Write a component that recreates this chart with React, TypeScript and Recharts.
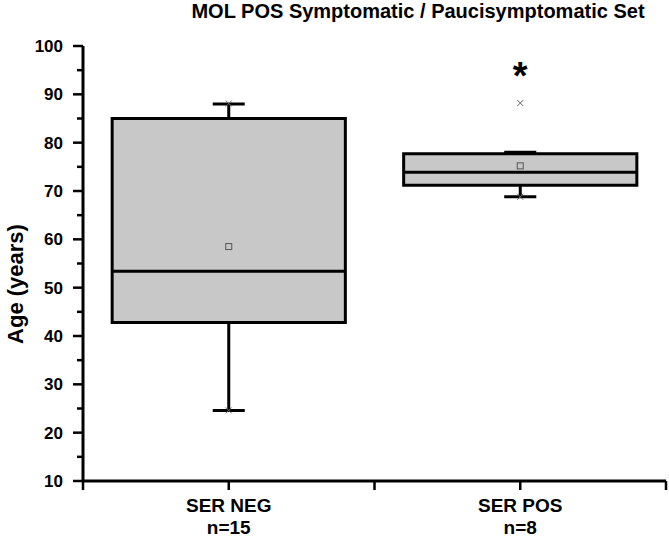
import {
  ComposedChart, XAxis, YAxis, Scatter, ReferenceArea, ReferenceLine, Label,
} from "recharts";

const categories = ["SER NEG", "SER POS"];
const counts = [15, 8];
const positions = [1, 3];
const whiskerLow = [24.6, 68.8];
const q1 = [42.8, 71.2];
const median = [53.4, 73.9];
const q3 = [85.0, 77.7];
const whiskerHigh = [88.0, 78.0];
const means = [58.5, 75.2];
// small "x" marks (min / max / 1-99%)
const markerX = [1, 1, 3, 3];
const markerY = [88.1, 24.6, 88.2, 68.8];
// significance star above SER POS
const starX = [3];
const starY = [95];

const yTicks = [10, 15, 20, 25, 30, 35, 40, 45, 50, 55, 60, 65, 70, 75, 80, 85, 90, 95, 100];
const xTicks = [0, 1, 2, 3, 4];

const FONT = '"Liberation Sans", Arial, sans-serif';
const BOX_HALF = 0.8;
const CAP_HALF = 0.11;

const meanData = positions.map((x, i) => ({ x, y: means[i] }));
const markerData = markerX.map((x, i) => ({ x, y: markerY[i] }));
const starData = starX.map((x, i) => ({ x, y: starY[i] }));

function YTick(props: any) {
  const { x, y, payload } = props;
  const major = payload.value % 10 === 0;
  return (
    <g>
      <line x1={x - (major ? 10 : 6)} x2={x} y1={y} y2={y} stroke="#000" strokeWidth={2.5} />
      {major && (
        <text x={x - 20} y={y + 6} textAnchor="end" fontFamily={FONT} fontWeight="bold" fontSize={17} fill="#000">
          {payload.value}
        </text>
      )}
    </g>
  );
}

function XTick(props: any) {
  const { x, y, payload } = props;
  const idx = positions.indexOf(payload.value);
  if (idx < 0) return null;
  return (
    <g fontFamily={FONT} fontWeight="bold" fontSize={19} fill="#000">
      <text x={x} y={y + 20} textAnchor="middle">{categories[idx]}</text>
      <text x={x} y={y + 42} textAnchor="middle">{`n=${counts[idx]}`}</text>
    </g>
  );
}

function MeanShape(props: any) {
  const { cx, cy } = props;
  return <rect x={cx - 3} y={cy - 3} width={6} height={6} fill="none" stroke="#555" strokeWidth={1} />;
}

function CrossShape(props: any) {
  const { cx, cy } = props;
  return (
    <g stroke="#666" strokeWidth={1}>
      <line x1={cx - 3} y1={cy - 3} x2={cx + 3} y2={cy + 3} />
      <line x1={cx - 3} y1={cy + 3} x2={cx + 3} y2={cy - 3} />
    </g>
  );
}

function StarShape(props: any) {
  const { cx, cy } = props;
  return (
    <text x={cx} y={cy + 19} textAnchor="middle" fontFamily={FONT} fontWeight="bold" fontSize={38} fill="#000">
      *
    </text>
  );
}

export default function App() {
  return (
    <div style={{ position: "absolute", left: 0, top: 0, width: 669, height: 539, background: "#fff" }}>
      <div
        style={{
          position: "absolute", left: 418, top: 0, transform: "translateX(-50%)",
          fontFamily: FONT, fontWeight: "bold", fontSize: 20, lineHeight: "23px", whiteSpace: "nowrap",
        }}
      >
        MOL POS Symptomatic / Paucisymptomatic Set
      </div>
      <ComposedChart width={669} height={539} margin={{ top: 46, right: 3, bottom: 0, left: 0 }}>
        <XAxis
          type="number" dataKey="x" domain={[0, 4]} ticks={xTicks} interval={0}
          axisLine={{ stroke: "#000", strokeWidth: 3 }}
          tickLine={{ stroke: "#000", strokeWidth: 2.5 }}
          tickSize={9} height={58} tick={<XTick />}
        />
        <YAxis
          type="number" dataKey="y" domain={[10, 100]} ticks={yTicks} interval={0}
          axisLine={{ stroke: "#000", strokeWidth: 3 }}
          tickLine={false} tickSize={0} tickMargin={0} width={83} tick={<YTick />}
        >
          <Label
            content={() => (
              <text x={23} y={284} transform="rotate(-90 23 284)" textAnchor="middle"
                fontFamily={FONT} fontWeight="bold" fontSize={22} fill="#000">
                Age (years)
              </text>
            )}
          />
        </YAxis>

        {positions.map((p, i) => (
          <ReferenceLine key={`wl${i}`} segment={[{ x: p, y: whiskerLow[i] }, { x: p, y: q1[i] }]} stroke="#000" strokeWidth={3} />
        ))}
        {positions.map((p, i) => (
          <ReferenceLine key={`wh${i}`} segment={[{ x: p, y: q3[i] }, { x: p, y: whiskerHigh[i] }]} stroke="#000" strokeWidth={3} />
        ))}
        {positions.map((p, i) => (
          <ReferenceArea key={`box${i}`} x1={p - BOX_HALF} x2={p + BOX_HALF} y1={q1[i]} y2={q3[i]}
            fill="#c8c8c8" fillOpacity={1} stroke="#000" strokeWidth={3} />
        ))}
        {positions.map((p, i) => (
          <ReferenceLine key={`med${i}`} segment={[{ x: p - BOX_HALF, y: median[i] }, { x: p + BOX_HALF, y: median[i] }]} stroke="#000" strokeWidth={3} />
        ))}
        {positions.map((p, i) => (
          <ReferenceLine key={`cl${i}`} segment={[{ x: p - CAP_HALF, y: whiskerLow[i] }, { x: p + CAP_HALF, y: whiskerLow[i] }]} stroke="#000" strokeWidth={3} />
        ))}
        {positions.map((p, i) => (
          <ReferenceLine key={`ch${i}`} segment={[{ x: p - CAP_HALF, y: whiskerHigh[i] }, { x: p + CAP_HALF, y: whiskerHigh[i] }]} stroke="#000" strokeWidth={3} />
        ))}

        <Scatter data={meanData} shape={<MeanShape />} isAnimationActive={false} />
        <Scatter data={markerData} shape={<CrossShape />} isAnimationActive={false} />
        <Scatter data={starData} shape={<StarShape />} isAnimationActive={false} />
      </ComposedChart>
    </div>
  );
}
